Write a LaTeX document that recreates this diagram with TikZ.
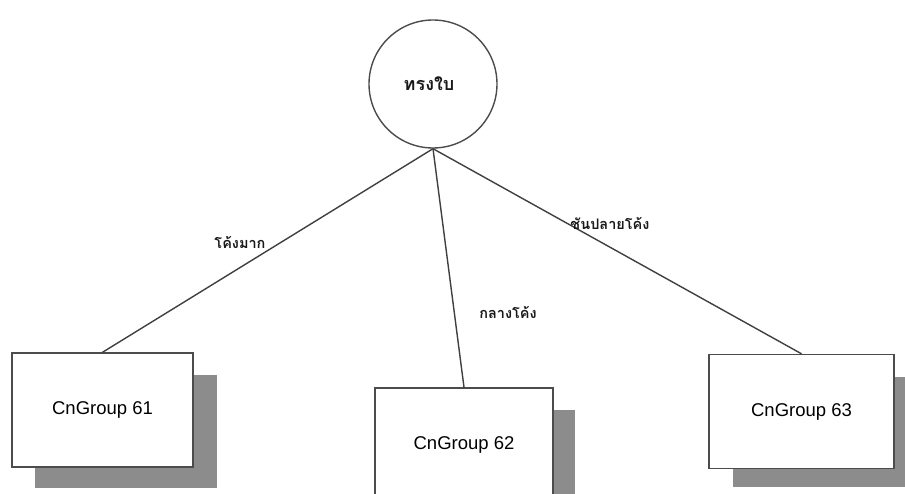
\documentclass[tikz,border=0pt]{standalone}
\usepackage{fontspec}
\setmainfont{Liberation Sans}
\newfontfamily\thaifont[Script=Thai]{Loma}
\begin{document}
\begin{tikzpicture}[x=1pt,y=-1pt,
  conn/.style={draw=black!75,line width=1.4pt},
  grpbox/.style={draw=black!70,line width=1.4pt,fill=white,minimum width=181pt,minimum height=114pt,inner sep=0pt,font=\fontsize{18.5}{20}\selectfont,text=black},
  shadowbox/.style={fill=black!45,draw=none},
  lbl/.style={font=\thaifont\bfseries\fontsize{14.5}{16}\selectfont,text=black!90,inner sep=0pt}]
\useasboundingbox (0,0) rectangle (905,494);
\clip (0,0) rectangle (905,494);
\fill[white] (0,0) rectangle (905,494);
% shadows
\fill[shadowbox] (35,375) rectangle (217,488);
\fill[shadowbox] (397,410) rectangle (575,510);
\fill[shadowbox] (733,377) rectangle (905,487);
% nodes
\node[circle,draw=black!70,line width=1.4pt,minimum size=128pt,inner sep=0pt,fill=white] (root) at (433,84) {};
\node[lbl,font=\thaifont\bfseries\fontsize{18}{20}\selectfont] (roottxt) at (429,84) {ทรงใบ};
\node[grpbox] (g61) at (102.5,410) {CnGroup 61};
\node[grpbox,minimum width=178pt] (g62) at (464,445) {CnGroup 62};
\node[grpbox,minimum width=185pt] (g63) at (801.5,411.5) {CnGroup 63};
% connectors
\draw[conn] (root.south) -- (g61.north);
\draw[conn] (root.south) -- (g62.north);
\draw[conn] (root.south) -- (g63.north);
% labels
\node[lbl] (l1) at (240,242) {โค้งมาก};
\node[lbl] (l2) at (508,312) {กลางโค้ง};
\node[lbl] (l3) at (610,223) {ชันปลายโค้ง};
\end{tikzpicture}
\end{document}
